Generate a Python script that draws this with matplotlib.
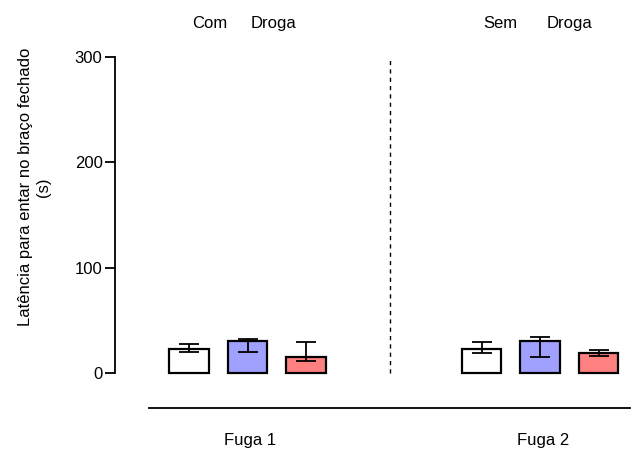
import matplotlib
matplotlib.use("Agg")
import matplotlib.pyplot as plt
import matplotlib.transforms as mtrans
import numpy as np

plt.rcParams['font.family'] = ['Liberation Sans', 'DejaVu Sans']

groups = ["Fuga 1", "Fuga 2"]
conditions = ["Controle", "Com Droga", "Sem Droga"]
means = [[22.5, 30.1, 14.9], [22.8, 30.1, 19.3]]
err_low = [[19.7, 19.7, 11.7], [18.7, 14.9, 16.1]]
err_high = [[27.8, 32.6, 29.4], [29.7, 33.9, 21.8]]
colors = ["#FFFFFF", "#A0A0FF", "#FF8080"]
yticks = [0, 100, 200, 300]
ylabel = "Latência para entar no braço fechado\n(s)"
top_labels = [("Com", 210), ("Droga", 274), ("Sem", 500), ("Droga", 570)]

FS = 12
W, H = 632, 451
fig = plt.figure(figsize=(W / 100, H / 100), dpi=100)
ax = fig.add_axes([115 / W, (H - 373) / H, (W - 115) / W, 316 / H])

spacing_px = 58.5
group_gap = 5.0
width = 0.68
xl = -(189 - 115) / spacing_px
ax.set_xlim(xl, xl + (W - 115) / spacing_px)
ax.set_ylim(0, 300)

for g in range(len(groups)):
    for i in range(len(conditions)):
        x = g * group_gap + i
        m = means[g][i]
        ax.bar(x, m, width=width, color=colors[i], edgecolor="black",
               linewidth=1.6, zorder=2, clip_on=False)
        ax.errorbar(x, m, yerr=[[m - err_low[g][i]], [err_high[g][i] - m]],
                    fmt="none", ecolor="black", elinewidth=1.3, capsize=7.5,
                    capthick=1.3, zorder=3, clip_on=False)

# dashed separator
sep_x = (390 - 189) / spacing_px
ax.plot([sep_x, sep_x], [0, 300], color="black", linestyle=(0, (3, 3)),
        linewidth=1.0, clip_on=False)

ax.spines[["top", "right", "bottom"]].set_visible(False)
ax.spines["left"].set_linewidth(1.3)
ax.set_yticks(yticks)
ax.set_yticklabels([str(t) for t in yticks], fontsize=FS)
ax.tick_params(axis="y", length=7, width=1.3, pad=2)
ax.set_xticks([])

# bottom line
trans = mtrans.blended_transform_factory(ax.transData, fig.transFigure)
ax.plot([(149 - 189) / spacing_px, (630 - 189) / spacing_px],
        [(H - 408) / H] * 2, color="black", linewidth=1.3,
        transform=trans, clip_on=False)

group_label_x = [(250 - 189) / spacing_px, (543 - 189) / spacing_px]
for gx, name in zip(group_label_x, groups):
    ax.text(gx, (H - 445) / H, name, transform=trans, ha="center",
            va="baseline", fontsize=FS)

for txt, px in top_labels:
    fig.text(px / W, (H - 28) / H, txt, ha="center", va="baseline", fontsize=FS)

fig.text(35 / W, (H - 187) / H, ylabel, rotation=90, ha="center", va="center",
         multialignment="center", fontsize=FS, linespacing=1.25)

fig.savefig("out.png", dpi=100)
